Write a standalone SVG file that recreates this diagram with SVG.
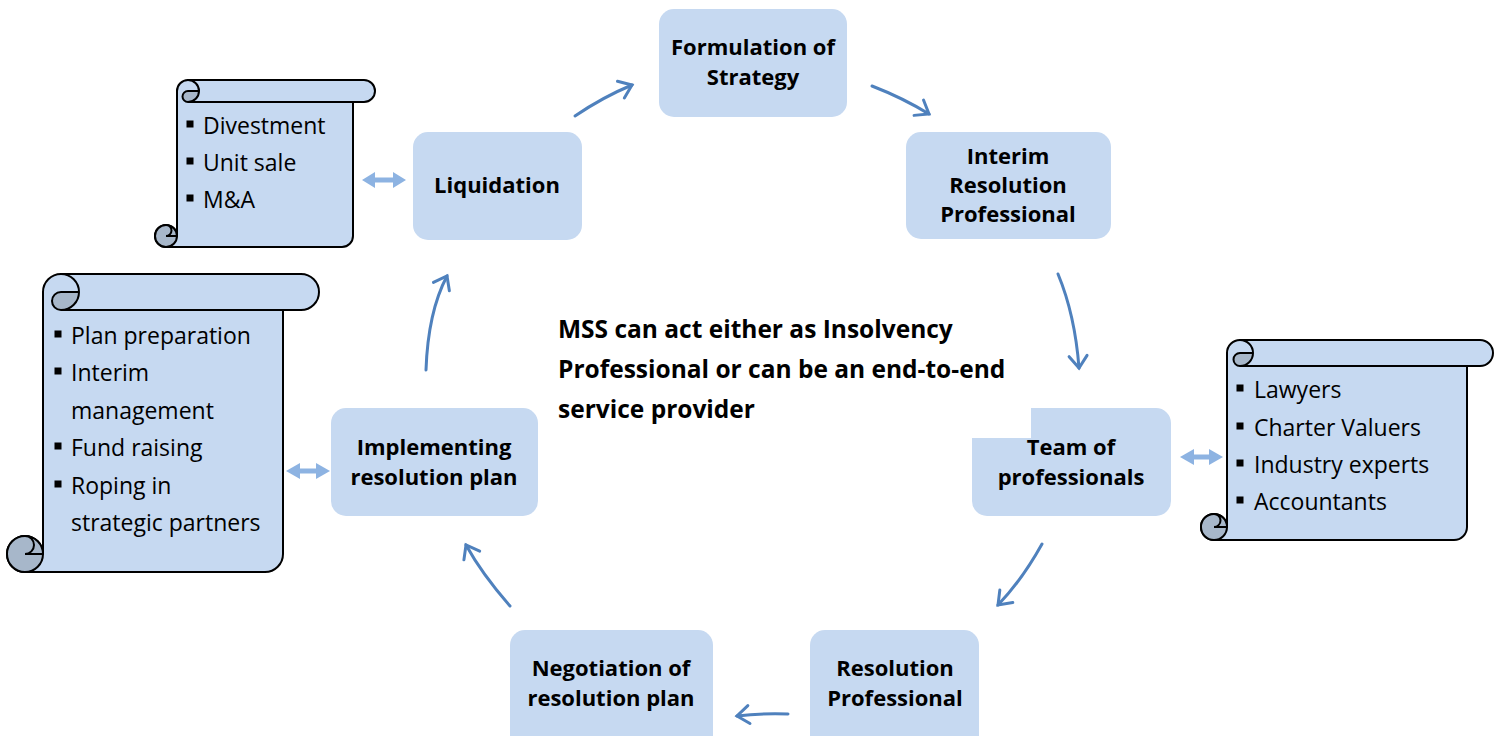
<svg xmlns="http://www.w3.org/2000/svg" width="1502" height="736" viewBox="0 0 1502 736">
  <style>
    .node { fill: #C6D9F1; }
    .lbl { font-family: "Open Sans", "Liberation Sans", sans-serif; font-weight: bold; font-size: 22px; fill: #000; text-anchor: middle; }
    .note { font-family: "Open Sans", "Liberation Sans", sans-serif; font-weight: bold; font-size: 24.5px; fill: #000; }
    .item { font-family: "Open Sans", "Liberation Sans", sans-serif; font-size: 23px; fill: #000; }
    .scroll { fill: #C6D9F1; stroke: #000; stroke-width: 2; stroke-linejoin: round; }
    .curl { fill: #A7B7CA; stroke: none; }
    .edge { fill: none; stroke: #000; stroke-width: 2; stroke-linecap: round; }
    .flow { fill: none; stroke: #4F81BD; stroke-width: 3; stroke-linecap: round; marker-end: url(#open); }
    .link { fill: #8DB3E2; }
    .dot { fill: #000; }
  </style>
  <defs>
    <marker id="open" markerUnits="userSpaceOnUse" markerWidth="24" markerHeight="24" viewBox="-14 -12 16 24" refX="0" refY="0" orient="auto">
      <path d="M-12,-9 L0,0 L-12,9" fill="none" stroke="#4F81BD" stroke-width="3" stroke-linecap="round" stroke-linejoin="miter"/>
    </marker>
  </defs>

  <!-- cycle connectors -->
  <g id="connectors">
    <path class="flow" d="M575,116 Q603,97 632,85"/>
    <path class="flow" d="M872,86 Q903,98 929,114"/>
    <path class="flow" d="M1058,274 Q1075,315 1079,368"/>
    <path class="flow" d="M1042,544 Q1022,580 998,605"/>
    <path class="flow" d="M788,714 Q762,713 737,716"/>
    <path class="flow" d="M510,606 Q482,574 466,545"/>
    <path class="flow" d="M426,370 Q428,312 447,276"/>
    <!-- two-way links to the side lists -->
    <polygon class="link" points="362,180 375,172 375,177.5 393,177.5 393,172 406,180 393,188 393,182.5 375,182.5 375,188"/>
    <polygon class="link" points="286,471 300,463 300,468.5 316,468.5 316,463 330,471 316,479 316,473.5 300,473.5 300,479"/>
    <polygon class="link" points="1180,457 1194,449 1194,454.5 1209,454.5 1209,449 1223,457 1209,465 1209,459.5 1194,459.5 1194,465"/>
  </g>

  <!-- cycle stages -->
  <g id="formulation">
    <rect class="node" x="659" y="9" width="188" height="108" rx="15"/>
    <text class="lbl" x="753" y="55">Formulation of</text>
    <text class="lbl" x="753" y="85">Strategy</text>
  </g>
  <g id="interim-rp">
    <rect class="node" x="906" y="132" width="205" height="107" rx="15"/>
    <text class="lbl" x="1008" y="164">Interim</text>
    <text class="lbl" x="1008" y="193">Resolution</text>
    <text class="lbl" x="1008" y="222">Professional</text>
  </g>
  <g id="team">
    <path class="node" d="M972,438 L1031,438 L1031,408 L1156,408 A15,15 0 0 1 1171,423 L1171,501 A15,15 0 0 1 1156,516 L987,516 A15,15 0 0 1 972,501 Z"/>
    <text class="lbl" x="1071" y="455">Team of</text>
    <text class="lbl" x="1071" y="485">professionals</text>
  </g>
  <g id="resolution-rp">
    <rect class="node" x="810" y="630" width="169" height="120" rx="15"/>
    <text class="lbl" x="895" y="676">Resolution</text>
    <text class="lbl" x="895" y="706">Professional</text>
  </g>
  <g id="negotiation">
    <rect class="node" x="510" y="630" width="203" height="120" rx="15"/>
    <text class="lbl" x="611" y="676">Negotiation of</text>
    <text class="lbl" x="611" y="706">resolution plan</text>
  </g>
  <g id="implementing">
    <rect class="node" x="331" y="408" width="207" height="108" rx="15"/>
    <text class="lbl" x="434" y="455">Implementing</text>
    <text class="lbl" x="434" y="485">resolution plan</text>
  </g>
  <g id="liquidation">
    <rect class="node" x="413" y="132" width="169" height="108" rx="15"/>
    <text class="lbl" x="497" y="193">Liquidation</text>
  </g>

  <!-- central statement -->
  <g id="statement">
    <text class="note" x="558" y="338">MSS can act either as Insolvency</text>
    <text class="note" x="558" y="378">Professional or can be an end-to-end</text>
    <text class="note" x="558" y="418">service provider</text>
  </g>

  <!-- liquidation options scroll -->
  <g id="scroll-liquidation">
    <path class="scroll" d="M177,236 L177,91 A11,11 0 0 1 188,80 L364,80 A11,11 0 0 1 364,102 L353,102 L353,236 A11,11 0 0 1 342,247 L166,247 A11,11 0 0 1 166,225 A11,11 0 0 1 177,236 Z"/>
    <path class="curl" d="M199,91 A11,11 0 0 1 188,102 A5.5,5.5 0 0 1 188,91 Z"/>
    <circle class="curl" cx="166" cy="236" r="11"/>
    <path class="edge" d="M353,102 L188,102 M188,80 A11,11 0 0 1 188,102 A5.5,5.5 0 0 1 188,91 L199,91 M166,225 A5.5,5.5 0 0 1 166,236 L177,236 M166,247 A11,11 0 0 0 177,236 M166,247 A11,11 0 0 1 166,225 A11,11 0 0 1 177,236"/>
    <rect class="dot" x="186.5" y="120.5" width="7" height="7"/>
    <text class="item" x="203" y="134">Divestment</text>
    <rect class="dot" x="186.5" y="157.5" width="7" height="7"/>
    <text class="item" x="203" y="171">Unit sale</text>
    <rect class="dot" x="186.5" y="194.5" width="7" height="7"/>
    <text class="item" x="203" y="208">M&amp;A</text>
  </g>

  <!-- resolution plan services scroll -->
  <g id="scroll-implementation">
    <path class="scroll" d="M43,554 L43,292 A18,18 0 0 1 61,274 L301,274 A18,18 0 0 1 301,310 L283,310 L283,554 A18,18 0 0 1 265,572 L25,572 A18,18 0 0 1 25,536 A18,18 0 0 1 43,554 Z"/>
    <path class="curl" d="M79,292 A18,18 0 0 1 61,310 A9,9 0 0 1 61,292 Z"/>
    <circle class="curl" cx="25" cy="554" r="18"/>
    <path class="edge" d="M283,310 L61,310 M61,274 A18,18 0 0 1 61,310 A9,9 0 0 1 61,292 L79,292 M25,536 A9,9 0 0 1 25,554 L43,554 M25,572 A18,18 0 0 0 43,554 M25,572 A18,18 0 0 1 25,536 A18,18 0 0 1 43,554"/>
    <rect class="dot" x="54.5" y="330.5" width="7" height="7"/>
    <text class="item" x="71" y="344">Plan preparation</text>
    <rect class="dot" x="54.5" y="367.5" width="7" height="7"/>
    <text class="item" x="71" y="381">Interim</text>
    <text class="item" x="71" y="419">management</text>
    <rect class="dot" x="54.5" y="442.5" width="7" height="7"/>
    <text class="item" x="71" y="456">Fund raising</text>
    <rect class="dot" x="54.5" y="480.5" width="7" height="7"/>
    <text class="item" x="71" y="494">Roping in</text>
    <text class="item" x="71" y="531">strategic partners</text>
  </g>

  <!-- professional team scroll -->
  <g id="scroll-team">
    <path class="scroll" d="M1227,527 L1227,353 A13,13 0 0 1 1240,340 L1480,340 A13,13 0 0 1 1480,366 L1467,366 L1467,527 A13,13 0 0 1 1454,540 L1214,540 A13,13 0 0 1 1214,514 A13,13 0 0 1 1227,527 Z"/>
    <path class="curl" d="M1253,353 A13,13 0 0 1 1240,366 A6.5,6.5 0 0 1 1240,353 Z"/>
    <circle class="curl" cx="1214" cy="527" r="13"/>
    <path class="edge" d="M1467,366 L1240,366 M1240,340 A13,13 0 0 1 1240,366 A6.5,6.5 0 0 1 1240,353 L1253,353 M1214,514 A6.5,6.5 0 0 1 1214,527 L1227,527 M1214,540 A13,13 0 0 0 1227,527 M1214,540 A13,13 0 0 1 1214,514 A13,13 0 0 1 1227,527"/>
    <rect class="dot" x="1236.5" y="384.5" width="7" height="7"/>
    <text class="item" x="1254" y="398">Lawyers</text>
    <rect class="dot" x="1236.5" y="422.5" width="7" height="7"/>
    <text class="item" x="1254" y="436">Charter Valuers</text>
    <rect class="dot" x="1236.5" y="459.5" width="7" height="7"/>
    <text class="item" x="1254" y="473">Industry experts</text>
    <rect class="dot" x="1236.5" y="496.5" width="7" height="7"/>
    <text class="item" x="1254" y="510">Accountants</text>
  </g>
</svg>
